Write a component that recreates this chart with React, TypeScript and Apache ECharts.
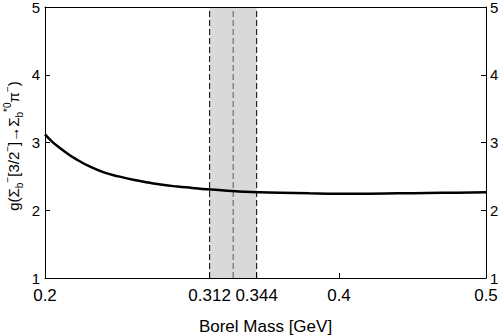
import React, { useEffect, useRef } from "react";
import * as echarts from "echarts";

const xValues = [0.2, 0.205, 0.21, 0.215, 0.22, 0.23, 0.24, 0.25, 0.26, 0.27, 0.28, 0.29, 0.3, 0.31, 0.32, 0.33, 0.34, 0.36, 0.38, 0.4, 0.42, 0.44, 0.46, 0.48, 0.5];
const gValues = [3.12, 3.01, 2.92, 2.84, 2.77, 2.65, 2.56, 2.5, 2.45, 2.41, 2.375, 2.35, 2.33, 2.31, 2.295, 2.28, 2.27, 2.26, 2.25, 2.245, 2.245, 2.25, 2.255, 2.26, 2.265];
const xTicks = [0.2, 0.312, 0.344, 0.4, 0.5];
const yTicks = [1, 2, 3, 4, 5];
const bandRange = [0.312, 0.344];
const bandCenter = 0.328;
const yRange = [1, 5];
const yName = "g(Σ{sub|b}{sup|−}[3/2{sup|−}]→Σ{sub|b}{sup|*0}π{sup|−})";
const xName = "Borel Mass [GeV]";

const FONT = "'Liberation Sans', Arial, Helvetica, sans-serif";

export default function App() {
  const ref = useRef<HTMLDivElement>(null);
  useEffect(() => {
    if (!ref.current) return;
    const chart = echarts.init(ref.current, undefined, { renderer: "svg" });
    const axisLine = { show: true, lineStyle: { color: "#000", width: 1 } };
    const xLabelStyle = { color: "#000", fontSize: 17, fontFamily: FONT };
    const yLabelStyle = { color: "#000", fontSize: 15, fontFamily: FONT };
    const vline = (x: number, color: string) => ({
      type: "line",
      xAxisIndex: 0,
      yAxisIndex: 0,
      data: [[x, yRange[0]], [x, yRange[1]]],
      showSymbol: false,
      symbol: "none",
      silent: true,
      lineStyle: { color, type: [6, 3], width: 1 },
      z: 3,
    });
    chart.setOption({
      animation: false,
      backgroundColor: "#fff",
      grid: { left: 45, right: 14, top: 7, bottom: 58, containLabel: false, outerBoundsMode: "none" },
      graphic: [
        {
          type: "text",
          x: 13,
          y: 146,
          rotation: Math.PI / 2,
          silent: true,
          style: {
            text: yName,
            fill: "#000",
            font: `15px ${FONT}`,
            fontSize: 15,
            fontFamily: FONT,
            align: "center",
            verticalAlign: "middle",
            lineHeight: 22,
            rich: {
              sub: { fontSize: 10, fontFamily: FONT, fill: "#000", verticalAlign: "bottom", lineHeight: 11 },
              sup: { fontSize: 10, fontFamily: FONT, fill: "#000", verticalAlign: "top", lineHeight: 11 },
            },
          },
        },
      ],
      xAxis: [
        {
          type: "value",
          position: "bottom",
          min: 0.2,
          max: 0.5,
          axisLine,
          splitLine: { show: false },
          axisTick: { show: true, inside: true, length: 5, lineStyle: { color: "#000" }, customValues: xTicks },
          axisLabel: {
            ...xLabelStyle,
            margin: 9,
            customValues: xTicks,
            formatter: (v: number) => String(Math.round(v * 1000) / 1000),
          },
          name: xName,
          nameLocation: "middle",
          nameGap: 40,
          nameTextStyle: { ...xLabelStyle },
          z: 10,
        },
        {
          type: "value",
          position: "top",
          min: 0.2,
          max: 0.5,
          axisLine,
          splitLine: { show: false },
          axisTick: { show: false },
          axisLabel: { show: false },
          z: 10,
        },
      ],
      yAxis: [
        {
          type: "value",
          position: "left",
          min: 1,
          max: 5,
          interval: 1,
          axisLine,
          splitLine: { show: false },
          axisTick: { show: true, inside: true, length: 5, lineStyle: { color: "#000" } },
          axisLabel: { ...yLabelStyle, margin: 5, customValues: yTicks },
          z: 10,
        },
        {
          type: "value",
          position: "right",
          min: 1,
          max: 5,
          interval: 1,
          axisLine,
          splitLine: { show: false },
          axisTick: { show: true, inside: true, length: 5, lineStyle: { color: "#000" } },
          axisLabel: { ...yLabelStyle, margin: 4, customValues: yTicks },
          z: 10,
        },
      ],
      series: [
        {
          type: "line",
          xAxisIndex: 0,
          yAxisIndex: 0,
          data: xValues.map((x, i) => [x, gValues[i]]),
          smooth: true,
          showSymbol: false,
          symbol: "none",
          lineStyle: { color: "#000", width: 2.5 },
          z: 5,
          markArea: {
            silent: true,
            itemStyle: { color: "#d9d9d9" },
            data: [[{ xAxis: bandRange[0] }, { xAxis: bandRange[1] }]],
          },
        },
        vline(bandRange[0], "#000"),
        vline(bandCenter, "#555"),
        vline(bandRange[1], "#000"),
      ],
    });
    return () => chart.dispose();
  }, []);
  return <div ref={ref} style={{ width: 500, height: 336, position: "absolute", left: 0, top: 0 }} />;
}
